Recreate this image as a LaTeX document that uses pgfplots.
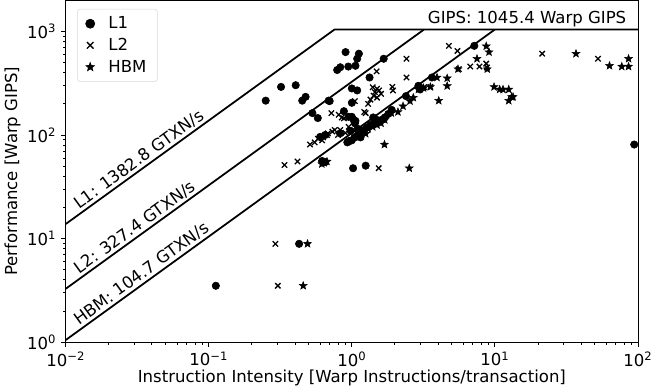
\documentclass[border=0pt]{standalone}
\usepackage{pgfplots}
\pgfplotsset{compat=1.18}
\usepackage{fontspec}
\setmainfont{DejaVu Sans}
\pgfdeclareplotmark{fstar}{%
  \pgfpathmoveto{\pgfqpointpolar{90}{\pgfplotmarksize}}%
  \pgfpathlineto{\pgfqpointpolar{126}{0.42\pgfplotmarksize}}%
  \pgfpathlineto{\pgfqpointpolar{162}{\pgfplotmarksize}}%
  \pgfpathlineto{\pgfqpointpolar{198}{0.42\pgfplotmarksize}}%
  \pgfpathlineto{\pgfqpointpolar{234}{\pgfplotmarksize}}%
  \pgfpathlineto{\pgfqpointpolar{270}{0.42\pgfplotmarksize}}%
  \pgfpathlineto{\pgfqpointpolar{306}{\pgfplotmarksize}}%
  \pgfpathlineto{\pgfqpointpolar{342}{0.42\pgfplotmarksize}}%
  \pgfpathlineto{\pgfqpointpolar{18}{\pgfplotmarksize}}%
  \pgfpathlineto{\pgfqpointpolar{54}{0.42\pgfplotmarksize}}%
  \pgfpathclose\pgfusepathqfillstroke}
\begin{document}
\begin{tikzpicture}[font=\fontsize{12.2}{14.6}\selectfont]
\begin{axis}[
  scale only axis, width=422pt, height=252pt,
  xmode=log, ymode=log,
  xmin=0.01, xmax=100, ymin=1, ymax=2000,
  xtick={0.01,0.1,1,10,100},
  xticklabels={10\textsuperscript{−2},10\textsuperscript{−1},10\textsuperscript{0},10\textsuperscript{1},10\textsuperscript{2}},
  ytick={1,10,100,1000},
  yticklabels={10\textsuperscript{0},10\textsuperscript{1},10\textsuperscript{2},10\textsuperscript{3}},
  tick align=outside, xtick pos=left, ytick pos=left,
  major tick length=3.5pt, minor tick length=2pt,
  tick style={black, line width=0.6pt},
  axis line style={line width=0.6pt},
  tick label style={font=\fontsize{12.2}{14.6}\selectfont},
  label style={font=\fontsize{12.2}{14.6}\selectfont},
  xlabel={Instruction Intensity [Warp Instructions/transaction]},
  ylabel={Performance [Warp GIPS]},
  xlabel style={yshift=4pt},
  ylabel style={yshift=-2pt},
  legend cell align=left,
  legend style={draw=black!15, rounded corners=2pt, font=\fontsize{12.2}{14.6}\selectfont, row sep=1.5pt, inner xsep=6pt, inner ysep=3.5pt, at={(0.02,0.975)}, anchor=north west},
  legend image post style={mark size=3.4pt},
]
% rooflines
\addplot[black, line width=1.3pt, forget plot] coordinates {(0.01,13.828) (0.75600,1045.4) (100,1045.4)};
\addplot[black, line width=1.3pt, forget plot] coordinates {(0.01,3.274) (3.1930,1045.4)};
\addplot[black, line width=1.3pt, forget plot] coordinates {(0.01,1.047) (9.9847,1045.4)};
% L1
\addplot[only marks, mark=*, mark size=2.75pt, black] coordinates {
(0.112,3.5) (0.428,8.9) (0.25,215) (0.32,292) (0.405,303) (0.45,215) (0.475,234)
(0.53,163) (0.578,146) (0.688,215) (0.904,633) (0.79,425) (0.83,452) (0.945,459)
(1.06,467) (1.09,546) (1.12,611) (1.0,282) (1.09,270) (0.88,170) (1.0,205)
(1.0,150) (1.03,140) (1.05,130) (1.02,47.8) (1.67,546) (1.33,360) (0.70,213)
(0.95,150) (1.06,137) (1.41,148) (1.5,140) (1.58,138) (1.65,142) (1.7,148)
(0.6,96) (0.65,100) (0.83,104) (0.93,85) (0.955,87) (1.0,89) (1.05,95) (1.1,100)
(1.16,108) (1.22,112) (1.27,118) (1.25,50.6) (0.62,56.2) (0.65,54.8)
(2.39,238) (2.92,299) (3.0,276) (3.63,360) (7.18,728) (94.2,81)
(1.1,115) (1.15,95) (0.98,110) (1.35,125) (1.45,135) (1.8,160) (1.9,175)
};
\addlegendentry{\hspace{8pt}L1}
% L2
\addplot[only marks, mark=x, mark size=2.8pt, black, mark options={line width=0.95pt}] coordinates {
(0.292,8.9) (0.304,3.5) (0.338,51.4) (0.417,55.5) (0.51,81) (0.62,89) (0.67,100)
(0.73,108) (0.72,163) (0.76,112) (0.83,112) (1.05,213) (0.55,85) (0.58,92) (0.63,95)
(0.68,104) (0.8,100) (0.81,157) (0.85,148) (0.88,145) (1.22,167) (1.25,163)
(1.35,220) (1.42,240) (1.45,260) (1.5,280) (1.55,270) (1.6,250) (1.4,290) (1.5,230)
(1.49,413) (1.92,292) (1.94,270) (2.41,546) (2.41,360) (1.54,47.8) (3.54,292)
(3.2,290) (4.77,728) (5.47,649) (5.6,434) (6.73,459) (7.8,459) (8.7,490) (8.8,450)
(21.4,611) (52.6,546) (0.95,120) (0.9,105) (1.3,200)
};
\addlegendentry{\hspace{8pt}L2}
% HBM
\addplot[only marks, mark=fstar, mark size=3pt, black] coordinates {
(0.457,3.5) (0.49,8.9) (0.617,52.5) (0.67,55.5) (0.64,54) (1.69,81) (2.52,47.8)
(1.0,92) (1.1,100) (1.2,108) (1.3,115) (1.25,103) (1.4,120) (1.5,125) (1.6,130)
(1.7,140) (1.89,163) (2.1,167) (2.28,190) (2.55,213) (2.69,230) (2.92,276)
(3.17,285) (3.54,292) (3.94,360) (4.64,354) (4.64,298) (4.05,215) (5.52,434)
(7.5,546) (8.7,722) (9.1,633) (8.84,434) (9.87,292) (10.8,276) (11.4,276)
(12.5,276) (12.5,215) (13.1,234) (13.4,234) (36.9,611) (63.3,467) (77.1,459)
(86,459) (86,546)
};
\addlegendentry{\hspace{8pt}HBM}
% labels
\node[anchor=south west, rotate=35.9, inner sep=1.5pt] at (axis cs:0.0125,17.3) {L1: 1382.8 GTXN/s};
\node[anchor=south west, rotate=35.9, inner sep=1.5pt] at (axis cs:0.0125,4.09) {L2: 327.4 GTXN/s};
\node[anchor=south west, rotate=35.9, inner sep=1.5pt] at (axis cs:0.0125,1.31) {HBM: 104.7 GTXN/s};
\node[anchor=south east, inner sep=1.5pt] at (axis cs:86,1045.4) {GIPS: 1045.4 Warp GIPS};
\end{axis}
\end{tikzpicture}
\end{document}
